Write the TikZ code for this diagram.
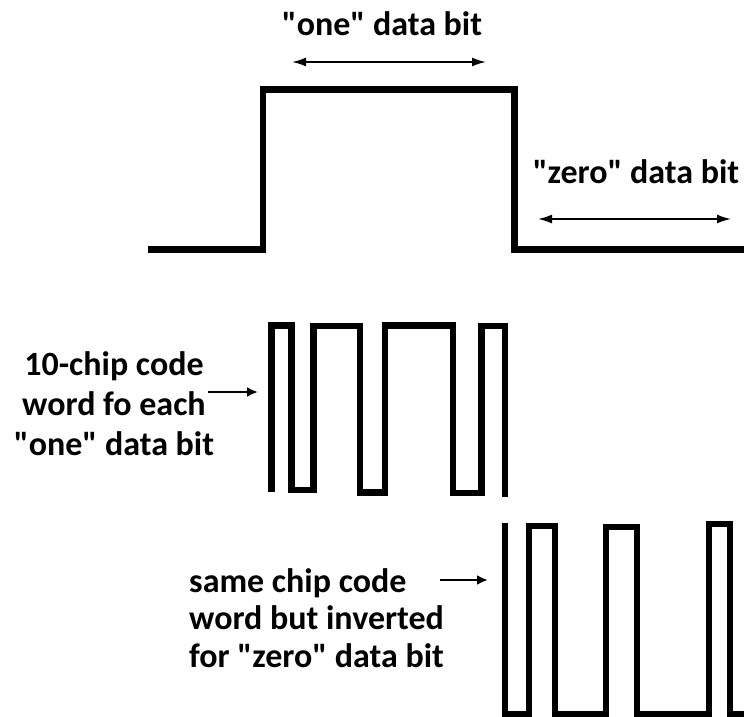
\documentclass[tikz,border=0pt]{standalone}
\usepackage{fontspec}
\setmainfont{Carlito}[Ligatures=TeXOff]
\usetikzlibrary{arrows.meta}
\tikzset{
  wave/.style={line width=6.5pt, line join=miter, line cap=butt, black},
  span/.style={line width=1.8pt, {Latex[length=14pt,width=9pt]}-{Latex[length=14pt,width=9pt]}},
  pointer/.style={line width=2.6pt, -{Latex[length=11pt,width=10pt]}},
  lbl/.style={font=\fontsize{34}{40}\selectfont\bfseries, inner sep=0pt},
}
\begin{document}
\begin{tikzpicture}[x=1pt,y=-1pt]
\clip (0,0) rectangle (744,717);
\fill[white] (0,0) rectangle (744,717);

% data bit waveform
\draw[wave] (148,249.5) -- (263,249.5) -- (263,89.5) -- (514.5,89.5) -- (514.5,249.5) -- (760,249.5);

% labels for data bits
\node[lbl, anchor=base] (one) at (382,36) {"one" data bit};
\coordinate (oneL) at (292,62);
\coordinate (oneR) at (486,62);
\draw[span] (oneL) -- (oneR);

\node[lbl, anchor=base] (zero) at (636,183) {"zero" data bit};
\coordinate (zeroL) at (538,219);
\coordinate (zeroR) at (731,219);
\draw[span] (zeroL) -- (zeroR);

% chip code word
\draw[wave] (271.5,492) -- (271.5,325.5) -- (291.5,325.5) -- (291.5,490) -- (313.5,490)
  -- (313.5,326) -- (360,326) -- (360,492.5) -- (385,492.5) -- (385,325.5) -- (453,325.5)
  -- (453,493) -- (481.5,493) -- (481.5,326) -- (505,326) -- (505,497);

\node[lbl, align=center, anchor=base, font=\fontsize{34}{40}\selectfont\bfseries] (code) at (114,455)
  {10-chip code\\word fo each\\"one" data bit};
\coordinate (codeA) at (208,392);
\coordinate (codeB) at (258,392);
\draw[pointer] (codeA) -- (codeB);

% inverted chip code word
\draw[wave] (505,523) -- (505,714) -- (529,714) -- (529,526) -- (555,526) -- (555,714)
  -- (606,714) -- (606,527) -- (637,527) -- (637,714) -- (709,714) -- (709,524)
  -- (730,524) -- (730,714) -- (760,714);

\node[lbl, align=left, anchor=base west, font=\fontsize{34}{37.5}\selectfont\bfseries] (inv) at (189,667)
  {same chip code\\word but inverted\\for "zero" data bit};
\coordinate (invA) at (440,580);
\coordinate (invB) at (488,580);
\draw[pointer] (invA) -- (invB);
\end{tikzpicture}
\end{document}
